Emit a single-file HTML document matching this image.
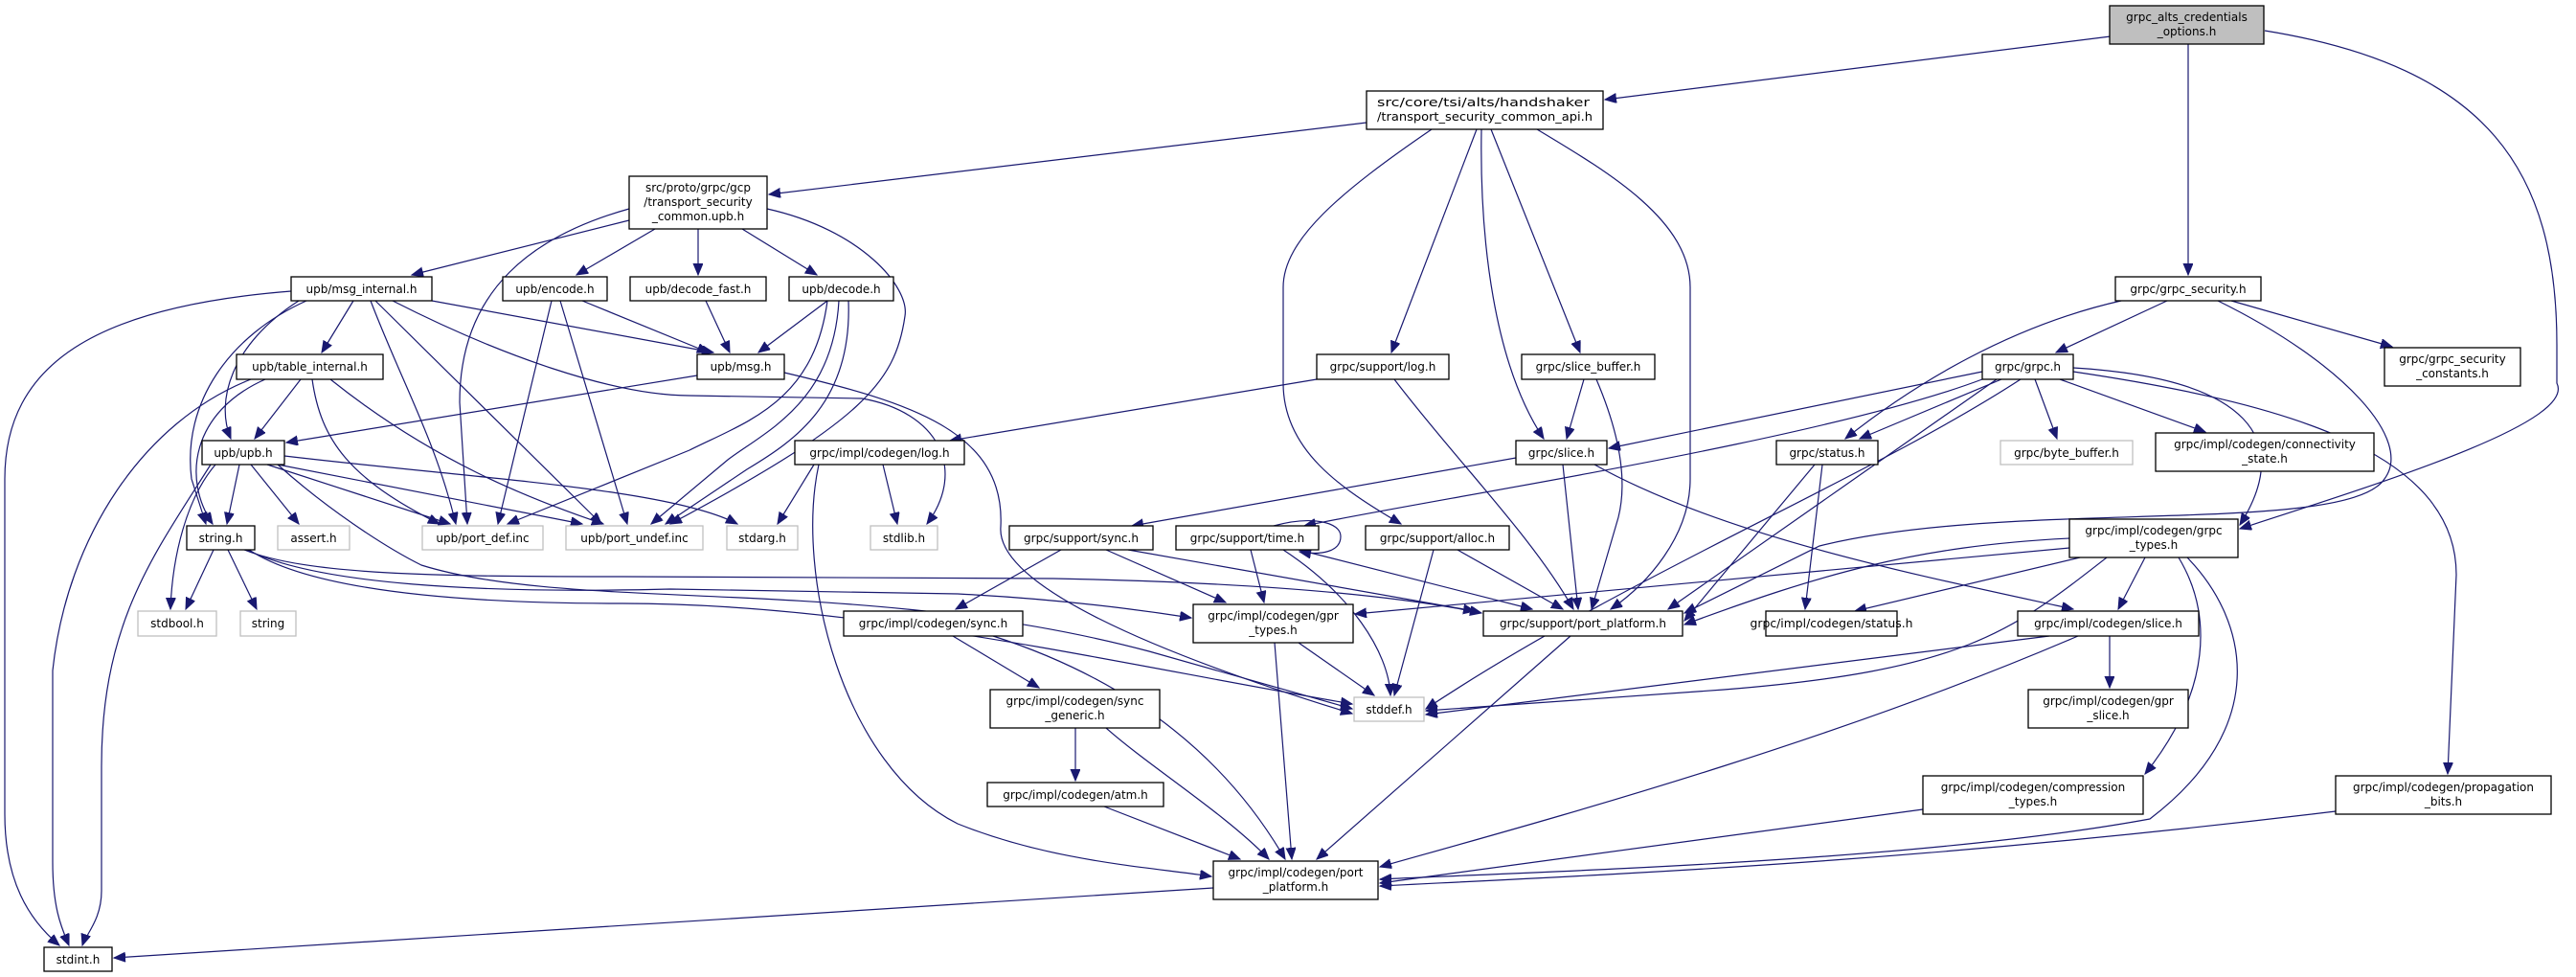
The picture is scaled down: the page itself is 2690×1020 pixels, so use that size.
<!DOCTYPE html>
<html><head><meta charset="utf-8"><style>
html,body{margin:0;padding:0;background:#fff;}
svg{display:block;}
.n rect{fill:#fff;stroke:#000;stroke-width:1.3;}
.n.g rect{stroke:#bfbfbf;}
.n.r rect{fill:#bfbfbf;stroke:#000;}
text{font-family:"DejaVu Sans","Liberation Sans",sans-serif;font-size:12px;fill:#000;}
.e path{fill:none;stroke:#191970;stroke-width:1.2;}
</style></head><body>
<svg width="2690" height="1020" viewBox="0 0 2690 1020" xmlns="http://www.w3.org/2000/svg">
<defs><marker id="a" markerUnits="userSpaceOnUse" markerWidth="14" markerHeight="12" refX="12" refY="5" orient="auto"><path d="M0,0 L12,5 L0,10 z" fill="#191970" stroke="#191970"/></marker></defs>
<g class="e" marker-end="url(#a)">
<path d="M2204,38 L1676,104" marker-end="url(#a)"/>
<path d="M2285,46 L2285,287" marker-end="url(#a)"/>
<path d="M2365,32 C2600,70 2670,180 2670,360 L2670,400 C2690,440 2500,500 2339,552" marker-end="url(#a)"/>
<path d="M1427,128 L803,203" marker-end="url(#a)"/>
<path d="M1495,135 C1400,200 1340,250 1340,300 L1340,400 C1340,470 1400,510 1463,547" marker-end="url(#a)"/>
<path d="M1542,135 L1453,368" marker-end="url(#a)"/>
<path d="M1547,135 C1545,250 1560,380 1612,458" marker-end="url(#a)"/>
<path d="M1557,135 L1650,368" marker-end="url(#a)"/>
<path d="M1605,135 C1680,180 1765,230 1765,300 L1765,500 C1765,560 1720,610 1682,636" marker-end="url(#a)"/>
<path d="M657,230 L430,287" marker-end="url(#a)"/>
<path d="M684,239 L602,287" marker-end="url(#a)"/>
<path d="M729,239 L729,287" marker-end="url(#a)"/>
<path d="M775,239 L853,287" marker-end="url(#a)"/>
<path d="M657,218 C560,245 480,300 480,420 L488,547" marker-end="url(#a)"/>
<path d="M801,218 C900,240 950,300 945,330 C935,400 900,440 700,547" marker-end="url(#a)"/>
<path d="M304,304 C100,320 5,380 5,500 L5,850 C5,920 30,960 62,987" marker-end="url(#a)"/>
<path d="M320,314 C240,350 190,420 200,500 L215,547" marker-end="url(#a)"/>
<path d="M312,314 C240,360 225,420 241,458" marker-end="url(#a)"/>
<path d="M369,314 L336,368" marker-end="url(#a)"/>
<path d="M387,314 C420,400 455,460 476,547" marker-end="url(#a)"/>
<path d="M392,314 L628,547" marker-end="url(#a)"/>
<path d="M451,314 L745,368" marker-end="url(#a)"/>
<path d="M410,314 C520,370 640,413 720,413 L900,416 C980,430 1010,490 968,547" marker-end="url(#a)"/>
<path d="M608,314 L740,368" marker-end="url(#a)"/>
<path d="M576,314 L520,547" marker-end="url(#a)"/>
<path d="M585,314 L655,547" marker-end="url(#a)"/>
<path d="M737,314 L762,368" marker-end="url(#a)"/>
<path d="M864,314 L792,368" marker-end="url(#a)"/>
<path d="M864,314 C850,420 780,440 720,470 L530,547" marker-end="url(#a)"/>
<path d="M876,314 C870,420 800,450 760,480 L680,547" marker-end="url(#a)"/>
<path d="M886,314 C890,420 830,460 780,490 L695,547" marker-end="url(#a)"/>
<path d="M728,392 L299,462" marker-end="url(#a)"/>
<path d="M819,389 C950,420 1050,450 1045,550 C1040,610 1200,680 1412,745" marker-end="url(#a)"/>
<path d="M314,396 L266,458" marker-end="url(#a)"/>
<path d="M277,396 C200,430 190,500 222,547" marker-end="url(#a)"/>
<path d="M262,396 C150,440 70,560 55,700 L55,900 C55,950 65,970 72,987" marker-end="url(#a)"/>
<path d="M326,396 C335,460 365,500 459,547" marker-end="url(#a)"/>
<path d="M345,396 C450,480 550,520 630,547" marker-end="url(#a)"/>
<path d="M250,485 L237,547" marker-end="url(#a)"/>
<path d="M262,485 L312,547" marker-end="url(#a)"/>
<path d="M279,485 L470,547" marker-end="url(#a)"/>
<path d="M290,485 L608,547" marker-end="url(#a)"/>
<path d="M297,476 C500,500 700,510 770,547" marker-end="url(#a)"/>
<path d="M225,485 C195,520 180,580 178,636" marker-end="url(#a)"/>
<path d="M220,485 C160,580 106,650 106,800 L106,930 C106,960 90,975 86,987" marker-end="url(#a)"/>
<path d="M290,485 C340,530 400,570 440,590 C600,640 900,600 1200,680 L1412,740" marker-end="url(#a)"/>
<path d="M223,574 L194,636" marker-end="url(#a)"/>
<path d="M238,574 L268,636" marker-end="url(#a)"/>
<path d="M255,574 C320,600 450,602 650,602 L1100,604 C1300,608 1450,620 1547,640" marker-end="url(#a)"/>
<path d="M258,574 C330,610 500,620 700,615 L1000,620 C1100,625 1180,635 1244,645" marker-end="url(#a)"/>
<path d="M260,574 C330,620 500,630 650,630 C900,630 1150,690 1412,735" marker-end="url(#a)"/>
<path d="M850,485 L812,547" marker-end="url(#a)"/>
<path d="M922,485 L937,547" marker-end="url(#a)"/>
<path d="M855,485 C830,600 880,800 1000,860 C1100,900 1200,905 1265,915" marker-end="url(#a)"/>
<path d="M1375,396 L992,460" marker-end="url(#a)"/>
<path d="M1456,396 C1520,480 1600,560 1643,636" marker-end="url(#a)"/>
<path d="M1654,396 L1636,458" marker-end="url(#a)"/>
<path d="M1667,396 C1690,450 1700,500 1690,540 L1662,636" marker-end="url(#a)"/>
<path d="M1583,478 L1182,549" marker-end="url(#a)"/>
<path d="M1632,485 L1648,636" marker-end="url(#a)"/>
<path d="M1665,485 C1800,560 2000,600 2165,636" marker-end="url(#a)"/>
<path d="M1108,574 L998,636" marker-end="url(#a)"/>
<path d="M1155,574 L1280,629" marker-end="url(#a)"/>
<path d="M1178,574 L1540,638" marker-end="url(#a)"/>
<path d="M1306,574 L1320,629" marker-end="url(#a)"/>
<path d="M1340,574 C1410,620 1450,680 1452,726" marker-end="url(#a)"/>
<path d="M1356,574 L1600,636" marker-end="url(#a)"/>
<path d="M1330,549 C1370,538 1400,545 1400,560 C1400,576 1380,580 1357,576" marker-end="url(#a)"/>
<path d="M1497,574 L1456,726" marker-end="url(#a)"/>
<path d="M1522,574 L1632,636" marker-end="url(#a)"/>
<path d="M995,664 L1085,718" marker-end="url(#a)"/>
<path d="M1037,664 C1180,710 1280,790 1342,897" marker-end="url(#a)"/>
<path d="M1123,760 L1123,815" marker-end="url(#a)"/>
<path d="M1155,760 C1200,800 1280,850 1325,897" marker-end="url(#a)"/>
<path d="M1153,842 L1295,897" marker-end="url(#a)"/>
<path d="M1356,671 L1435,726" marker-end="url(#a)"/>
<path d="M1331,671 L1349,897" marker-end="url(#a)"/>
<path d="M1640,664 L1375,897" marker-end="url(#a)"/>
<path d="M1267,927 L119,1000" marker-end="url(#a)"/>
<path d="M2263,314 L2147,368" marker-end="url(#a)"/>
<path d="M2215,314 C2100,340 2000,400 1927,458" marker-end="url(#a)"/>
<path d="M2330,314 L2498,362" marker-end="url(#a)"/>
<path d="M2316,314 C2450,380 2520,460 2490,500 C2450,560 2100,520 1900,570 L1759,640" marker-end="url(#a)"/>
<path d="M2090,396 L1942,458" marker-end="url(#a)"/>
<path d="M2070,388 L1680,468" marker-end="url(#a)"/>
<path d="M2070,396 C1900,460 1500,520 1362,549" marker-end="url(#a)"/>
<path d="M2085,396 L1742,636" marker-end="url(#a)"/>
<path d="M2110,396 C1950,500 1700,600 1489,740" marker-end="url(#a)"/>
<path d="M2125,396 L2148,458" marker-end="url(#a)"/>
<path d="M2151,396 L2303,451" marker-end="url(#a)"/>
<path d="M2165,384 C2350,395 2395,460 2339,548" marker-end="url(#a)"/>
<path d="M2165,388 C2380,420 2565,470 2565,600 L2556,808" marker-end="url(#a)"/>
<path d="M1903,485 L1885,636" marker-end="url(#a)"/>
<path d="M1895,485 L1759,648" marker-end="url(#a)"/>
<path d="M2172,582 L1937,638" marker-end="url(#a)"/>
<path d="M2240,582 L2212,636" marker-end="url(#a)"/>
<path d="M2275,582 C2310,640 2310,720 2240,808" marker-end="url(#a)"/>
<path d="M2284,582 C2350,650 2370,760 2245,855 C2000,900 1600,910 1441,918" marker-end="url(#a)"/>
<path d="M2161,572 L1415,641" marker-end="url(#a)"/>
<path d="M2161,562 C2000,570 1900,600 1759,652" marker-end="url(#a)"/>
<path d="M2200,582 C2100,660 2050,700 1800,720 L1489,742" marker-end="url(#a)"/>
<path d="M2203,664 L2203,718" marker-end="url(#a)"/>
<path d="M2140,664 L1489,746" marker-end="url(#a)"/>
<path d="M2170,664 C1900,780 1600,860 1441,905" marker-end="url(#a)"/>
<path d="M2008,845 L1441,922" marker-end="url(#a)"/>
<path d="M2439,847 C2000,900 1700,912 1441,925" marker-end="url(#a)"/>
</g>
<g class="n r"><rect x="2203" y="6" width="161" height="40"/><text x="2283.5" y="22" text-anchor="middle">grpc_alts_credentials</text><text x="2283.5" y="37" text-anchor="middle">_options.h</text></g>
<g class="n"><rect x="1427" y="95" width="247" height="40"/><text x="1438" y="111" textLength="222" lengthAdjust="spacingAndGlyphs">src/core/tsi/alts/handshaker</text><text x="1438" y="126" textLength="225" lengthAdjust="spacingAndGlyphs">/transport_security_common_api.h</text></g>
<g class="n"><rect x="657" y="184" width="144" height="55"/><text x="729" y="200" text-anchor="middle">src/proto/grpc/gcp</text><text x="729" y="215" text-anchor="middle">/transport_security</text><text x="729" y="230" text-anchor="middle">_common.upb.h</text></g>
<g class="n"><rect x="304" y="289" width="147" height="25"/><text x="377.5" y="306" text-anchor="middle">upb/msg_internal.h</text></g>
<g class="n"><rect x="525" y="289" width="109" height="25"/><text x="579.5" y="306" text-anchor="middle">upb/encode.h</text></g>
<g class="n"><rect x="658" y="289" width="142" height="25"/><text x="729" y="306" text-anchor="middle">upb/decode_fast.h</text></g>
<g class="n"><rect x="824" y="289" width="109" height="25"/><text x="878.5" y="306" text-anchor="middle">upb/decode.h</text></g>
<g class="n"><rect x="247" y="370" width="153" height="26"/><text x="323.5" y="387" text-anchor="middle">upb/table_internal.h</text></g>
<g class="n"><rect x="728" y="370" width="91" height="26"/><text x="773.5" y="387" text-anchor="middle">upb/msg.h</text></g>
<g class="n"><rect x="211" y="460" width="86" height="25"/><text x="254" y="477" text-anchor="middle">upb/upb.h</text></g>
<g class="n"><rect x="830" y="460" width="177" height="25"/><text x="918.5" y="477" text-anchor="middle">grpc/impl/codegen/log.h</text></g>
<g class="n"><rect x="195" y="549" width="71" height="25"/><text x="230.5" y="566" text-anchor="middle">string.h</text></g>
<g class="n g"><rect x="290" y="549" width="75" height="25"/><text x="327.5" y="566" text-anchor="middle">assert.h</text></g>
<g class="n g"><rect x="441" y="549" width="126" height="25"/><text x="504" y="566" text-anchor="middle">upb/port_def.inc</text></g>
<g class="n g"><rect x="591" y="549" width="143" height="25"/><text x="662.5" y="566" text-anchor="middle">upb/port_undef.inc</text></g>
<g class="n g"><rect x="759" y="549" width="74" height="25"/><text x="796" y="566" text-anchor="middle">stdarg.h</text></g>
<g class="n g"><rect x="909" y="549" width="70" height="25"/><text x="944" y="566" text-anchor="middle">stdlib.h</text></g>
<g class="n g"><rect x="144" y="638" width="82" height="26"/><text x="185" y="655" text-anchor="middle">stdbool.h</text></g>
<g class="n g"><rect x="251" y="638" width="58" height="26"/><text x="280" y="655" text-anchor="middle">string</text></g>
<g class="n"><rect x="46" y="989" width="71" height="25"/><text x="81.5" y="1006" text-anchor="middle">stdint.h</text></g>
<g class="n"><rect x="1375" y="370" width="138" height="26"/><text x="1444" y="387" text-anchor="middle">grpc/support/log.h</text></g>
<g class="n"><rect x="1589" y="370" width="139" height="26"/><text x="1658.5" y="387" text-anchor="middle">grpc/slice_buffer.h</text></g>
<g class="n"><rect x="1583" y="460" width="95" height="25"/><text x="1630.5" y="477" text-anchor="middle">grpc/slice.h</text></g>
<g class="n"><rect x="1054" y="549" width="150" height="25"/><text x="1129" y="566" text-anchor="middle">grpc/support/sync.h</text></g>
<g class="n"><rect x="1228" y="549" width="149" height="25"/><text x="1302.5" y="566" text-anchor="middle">grpc/support/time.h</text></g>
<g class="n"><rect x="1426" y="549" width="150" height="25"/><text x="1501" y="566" text-anchor="middle">grpc/support/alloc.h</text></g>
<g class="n"><rect x="881" y="638" width="187" height="26"/><text x="974.5" y="655" text-anchor="middle">grpc/impl/codegen/sync.h</text></g>
<g class="n"><rect x="1246" y="631" width="167" height="40"/><text x="1329.5" y="647" text-anchor="middle">grpc/impl/codegen/gpr</text><text x="1329.5" y="662" text-anchor="middle">_types.h</text></g>
<g class="n"><rect x="1549" y="638" width="208" height="26"/><text x="1653" y="655" text-anchor="middle">grpc/support/port_platform.h</text></g>
<g class="n g"><rect x="1414" y="728" width="73" height="25"/><text x="1450.5" y="745" text-anchor="middle">stddef.h</text></g>
<g class="n"><rect x="1034" y="720" width="177" height="40"/><text x="1122.5" y="736" text-anchor="middle">grpc/impl/codegen/sync</text><text x="1122.5" y="751" text-anchor="middle">_generic.h</text></g>
<g class="n"><rect x="1031" y="817" width="184" height="25"/><text x="1123" y="834" text-anchor="middle">grpc/impl/codegen/atm.h</text></g>
<g class="n"><rect x="1267" y="899" width="172" height="40"/><text x="1353" y="915" text-anchor="middle">grpc/impl/codegen/port</text><text x="1353" y="930" text-anchor="middle">_platform.h</text></g>
<g class="n"><rect x="2209" y="289" width="152" height="25"/><text x="2285" y="306" text-anchor="middle">grpc/grpc_security.h</text></g>
<g class="n"><rect x="2070" y="370" width="95" height="26"/><text x="2117.5" y="387" text-anchor="middle">grpc/grpc.h</text></g>
<g class="n"><rect x="2490" y="363" width="142" height="40"/><text x="2561" y="379" text-anchor="middle">grpc/grpc_security</text><text x="2561" y="394" text-anchor="middle">_constants.h</text></g>
<g class="n"><rect x="1855" y="460" width="106" height="25"/><text x="1908" y="477" text-anchor="middle">grpc/status.h</text></g>
<g class="n g"><rect x="2089" y="460" width="138" height="25"/><text x="2158" y="477" text-anchor="middle">grpc/byte_buffer.h</text></g>
<g class="n"><rect x="2251" y="452" width="228" height="40"/><text x="2365" y="468" text-anchor="middle">grpc/impl/codegen/connectivity</text><text x="2365" y="483" text-anchor="middle">_state.h</text></g>
<g class="n"><rect x="2161" y="542" width="176" height="40"/><text x="2249" y="558" text-anchor="middle">grpc/impl/codegen/grpc</text><text x="2249" y="573" text-anchor="middle">_types.h</text></g>
<g class="n"><rect x="1844" y="638" width="137" height="26"/><text x="1912.5" y="655" text-anchor="middle" textLength="170" lengthAdjust="spacingAndGlyphs">grpc/impl/codegen/status.h</text></g>
<g class="n"><rect x="2107" y="638" width="189" height="26"/><text x="2201.5" y="655" text-anchor="middle">grpc/impl/codegen/slice.h</text></g>
<g class="n"><rect x="2118" y="720" width="167" height="40"/><text x="2201.5" y="736" text-anchor="middle">grpc/impl/codegen/gpr</text><text x="2201.5" y="751" text-anchor="middle">_slice.h</text></g>
<g class="n"><rect x="2008" y="810" width="230" height="40"/><text x="2123" y="826" text-anchor="middle">grpc/impl/codegen/compression</text><text x="2123" y="841" text-anchor="middle">_types.h</text></g>
<g class="n"><rect x="2439" y="810" width="225" height="40"/><text x="2551.5" y="826" text-anchor="middle">grpc/impl/codegen/propagation</text><text x="2551.5" y="841" text-anchor="middle">_bits.h</text></g>
</svg>
</body></html>
